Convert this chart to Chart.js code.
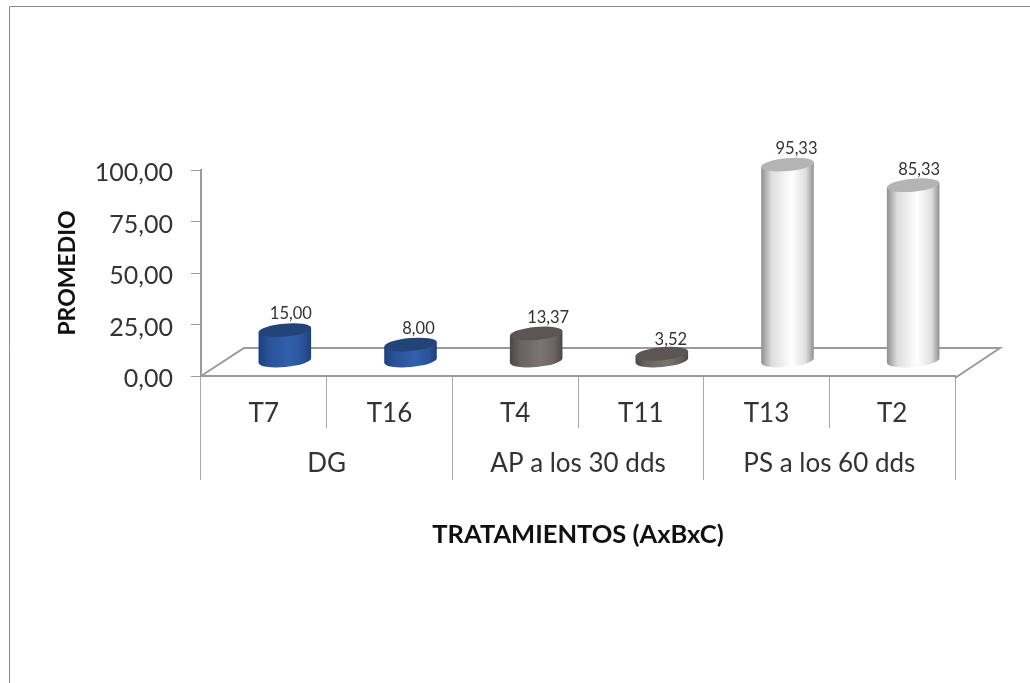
<!DOCTYPE html>
<html><head><meta charset="utf-8">
<style>html,body{margin:0;padding:0;background:#fff}canvas{display:block}</style>
<script src="https://cdn.jsdelivr.net/npm/chart.js@4"></script>
</head><body><canvas id="c" width="1030" height="683"></canvas>
<script>
const treatments = ["T7","T16","T4","T11","T13","T2"];
const groups = ["DG","AP a los 30 dds","PS a los 60 dds"];
const values = [15.00,8.00,13.37,3.52,95.33,85.33];
const yTicks = [0,25,50,75,100];
const edgeColors = ["#1d3f7d","#1d3f7d","#4b4746","#4b4746","#8e8e8e","#8e8e8e"];
const shoulderColors = ["#2a5298","#2a5298","#686361","#686361","#dedede","#dedede"];
const midColors = ["#3160ad","#3160ad","#7b7572","#7b7572","#ffffff","#ffffff"];
const capColors = ["#234379","#234379","#5b5654","#5b5654","#b4b4b4","#b4b4b4"];
const labelNudgeX = [-2,0,4,1,1,-2];
const labelNudgeY = [0,0,0,2,0,0];

const AXIS = "#9a9a9a", SEP = "#a8a8a8", INK = "#333333";
const FONT = "Lato, 'Open Sans', sans-serif";
const fmt = v => v.toFixed(2).replace(".", ",");
const DX = 21, DY = 15, SLANT = -0.09, RY = 6.5;

// Cylinder drawing for every bar, positioned by the library's scales
Chart.BarElement.prototype.draw = function (ctx) {
  const i = this.$context ? this.$context.dataIndex : 0;
  const p = this.getProps(["x","y","base","width"], false);
  const cx = p.x + DX, top = p.y - DY, bot = p.base - DY, rx = p.width / 2;
  const g = ctx.createLinearGradient(cx - rx, 0, cx + rx, 0);
  g.addColorStop(0, edgeColors[i]);
  g.addColorStop(0.2, shoulderColors[i]);
  g.addColorStop(0.58, midColors[i]);
  g.addColorStop(0.85, shoulderColors[i]);
  g.addColorStop(1, edgeColors[i]);
  ctx.save();
  ctx.beginPath();
  ctx.ellipse(cx, bot, rx, RY, SLANT, 0, Math.PI);
  ctx.lineTo(cx - rx * Math.cos(SLANT), top - rx * Math.sin(SLANT));
  ctx.lineTo(cx + rx * Math.cos(SLANT), top + rx * Math.sin(SLANT));
  ctx.closePath();
  ctx.fillStyle = g;
  ctx.fill();
  ctx.beginPath();
  ctx.ellipse(cx, top, rx, RY, SLANT, 0, Math.PI * 2);
  ctx.fillStyle = capColors[i];
  ctx.fill();
  ctx.restore();
};

const frame = {
  id: "frame",
  beforeDraw(chart) {
    const c = chart.ctx;
    c.save();
    c.fillStyle = "#fff"; c.fillRect(0, 0, chart.width, chart.height);
    c.strokeStyle = "#8c8c8c"; c.lineWidth = 1;
    c.beginPath();
    c.moveTo(9.5, 683); c.lineTo(9.5, 6.5); c.lineTo(1030, 6.5);
    c.stroke();
    c.restore();
  },
  beforeDatasetsDraw(chart) {
    const { left, right, bottom } = chart.chartArea;
    const c = chart.ctx;
    c.save();
    c.strokeStyle = AXIS; c.lineWidth = 2; c.lineJoin = "miter";
    c.beginPath();
    c.moveTo(left, bottom);
    c.lineTo(left + DX * 2 + 1, bottom - DY * 2 + 2);
    c.lineTo(right + DX * 2 + 3, bottom - DY * 2 + 2);
    c.lineTo(right, bottom + 2);
    c.stroke();
    c.restore();
  },
  afterDatasetsDraw(chart) {
    const c = chart.ctx;
    c.save();
    c.fillStyle = INK;
    c.font = "16.5px " + FONT;
    c.textAlign = "center"; c.textBaseline = "middle";
    chart.getDatasetMeta(0).data.forEach((el, i) => {
      c.fillText(fmt(values[i]), el.x + DX + 8 + labelNudgeX[i], el.y - DY - 16 + labelNudgeY[i]);
    });
    c.restore();
  }
};

new Chart(document.getElementById("c"), {
  type: "bar",
  data: { labels: treatments, datasets: [{ data: values, clip: false, barPercentage: 0.42, categoryPercentage: 1, backgroundColor: midColors }] },
  plugins: [frame],
  options: {
    responsive: false, animation: false,
    layout: { padding: { left: 54, right: 75, top: 170, bottom: 133 } },
    plugins: { legend: { display: false }, tooltip: { enabled: false } },
    scales: {
      x: {
        position: "bottom",
        grid: { drawOnChartArea: false, tickLength: 52, color: SEP, offset: true },
        border: { color: AXIS, width: 2 },
        ticks: { autoSkip: false, maxRotation: 0, padding: -30, color: INK, font: { family: FONT, size: 26 } },
        afterFit(s) { s.height = 52; }
      },
      x2: {
        type: "category", labels: groups, position: "bottom", offset: true,
        grid: { drawOnChartArea: false, tickLength: 52, color: SEP, offset: true },
        border: { display: false },
        ticks: { autoSkip: false, maxRotation: 0, padding: -32, color: INK, font: { family: FONT, size: 26 } },
        title: { display: true, text: "TRATAMIENTOS (AxBxC)", color: "#111", padding: 0, font: { family: FONT, size: 25.5, weight: "bold" } },
        afterFit(s) { s.height = 122; }
      },
      y: {
        min: 0, max: 100,
        afterBuildTicks(s) { s.ticks = yTicks.map(v => ({ value: v })); },
        grid: { drawOnChartArea: false, tickLength: 10, color: AXIS },
        border: { color: AXIS, width: 2 },
        ticks: { padding: 18, labelOffset: 3, color: INK, font: { family: FONT, size: 25 }, callback: v => fmt(v) },
        title: { display: true, text: "PROMEDIO", color: "#111", padding: 0, font: { family: FONT, size: 23, weight: "bold" } },
        afterFit(s) { s.width = 147; }
      }
    }
  }
});
</script></body></html>
